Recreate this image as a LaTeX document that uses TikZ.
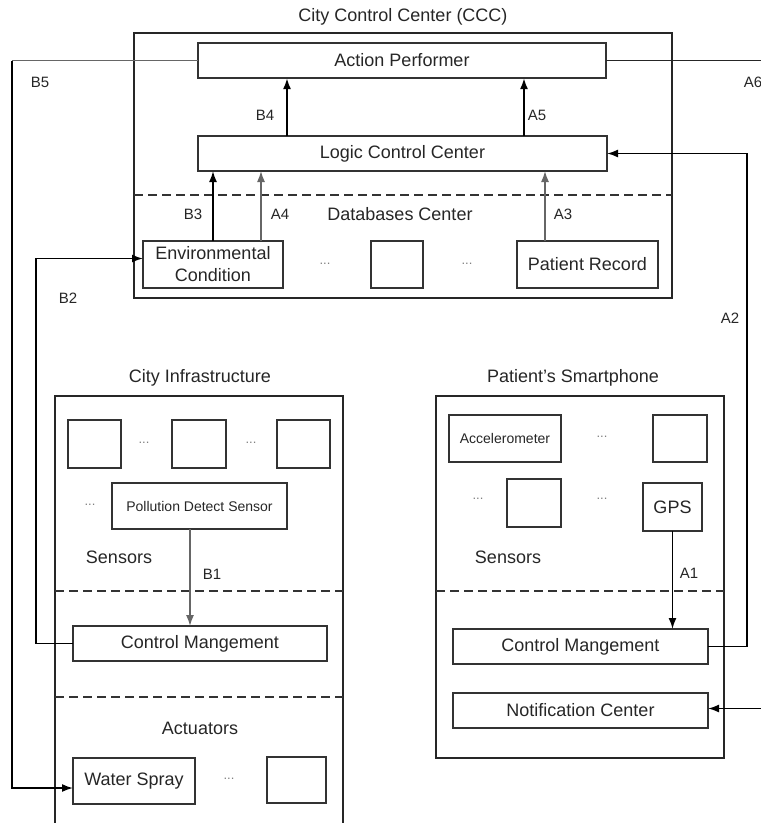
\documentclass[tikz,border=0pt]{standalone}
\usepackage{fontspec}
\setmainfont{Liberation Sans}
\usetikzlibrary{arrows.meta}

\begin{document}
\begin{tikzpicture}[x=1pt,y=-1pt]
\tikzset{
  frame/.style={draw=black!85,line width=2pt,inner sep=0pt,outer sep=0pt},
  box/.style={draw=black!80,line width=1.8pt,inner sep=0pt,outer sep=0pt,
    font=\fontsize{18}{22}\selectfont,text=black!85,align=center},
  sbox/.style={box,font=\fontsize{14}{17}\selectfont},
  txt/.style={font=\fontsize{18}{22}\selectfont,text=black!85,inner sep=0pt},
  lbl/.style={font=\fontsize{15}{18}\selectfont,text=black!85,inner sep=0pt},
  dots/.style={font=\fontsize{13}{15}\selectfont,text=black!50,inner sep=0pt},
  sep/.style={draw=black!80,line width=1.8pt,dash pattern=on 9pt off 5pt},
  tip/.style={-{Latex[length=11pt,width=8pt]}},
  arr/.style={tip,draw=black,line width=1.7pt},
  bigarr/.style={tip,draw=black,line width=2.5pt},
  garr/.style={tip,draw=black!60,line width=1.4pt},
  link/.style={draw=black!85,line width=1.7pt},
}
\useasboundingbox (0,0) rectangle (761,823);
\clip (0,0) rectangle (761,823);

% ---------- City Control Center ----------
\node[frame,minimum width=538,minimum height=265] (ccc) at (403,165.5) {};
\node[txt] (ccct) at (403,17) {City Control Center (CCC)};
\node[box,minimum width=408,minimum height=35] (ap) at (402,60.5) {Action Performer};
\node[box,minimum width=409,minimum height=35] (lcc) at (402.5,153.5) {Logic Control Center};
\coordinate (d1) at (0,195);
\draw[sep] (ccc.west |- d1) -- (ccc.east |- d1);
\node[txt] (dbc) at (400,214) {Databases Center};
\node[box,minimum width=140,minimum height=47] (env) at (213,264.5) {Environmental\\Condition};
\node[box,minimum width=52,minimum height=47] (db2) at (397,264.5) {};
\node[box,minimum width=141,minimum height=47] (pr) at (587.5,264.5) {Patient Record};
\node[dots] (dd1) at (325,264) {...};
\node[dots] (dd2) at (467,264) {...};

% ---------- City Infrastructure ----------
\node[frame,minimum width=288,minimum height=454] (ci) at (199,623) {};
\node[txt] (cit) at (200,378) {City Infrastructure};
\node[box,minimum width=53,minimum height=48] (s1) at (94.5,444) {};
\node[box,minimum width=54,minimum height=48] (s2) at (199,444) {};
\node[box,minimum width=53,minimum height=48] (s3) at (303.5,444) {};
\node[dots] (cd1) at (144,443) {...};
\node[dots] (cd2) at (251,443) {...};
\node[dots] (cd3) at (90,505) {...};
\node[sbox,minimum width=175,minimum height=46] (pds) at (199.5,506) {Pollution Detect Sensor};
\node[txt] (cis) at (119,557) {Sensors};
\coordinate (d2) at (0,591);
\draw[sep] (ci.west |- d2) -- (ci.east |- d2);
\node[box,minimum width=254,minimum height=35] (cml) at (200,643.5) {Control Mangement};
\coordinate (d3) at (0,697);
\draw[sep] (ci.west |- d3) -- (ci.east |- d3);
\node[txt] (act) at (200,728) {Actuators};
\node[box,minimum width=122,minimum height=46] (ws) at (134,781) {Water Spray};
\node[dots] (cd4) at (229,779) {...};
\node[box,minimum width=59,minimum height=46] (a2b) at (296.5,780) {};

% ---------- Patient's Smartphone ----------
\node[frame,minimum width=288,minimum height=362] (ps) at (580,577) {};
\node[txt] (pst) at (573,378) {Patient's Smartphone};
\node[sbox,minimum width=112,minimum height=47] (acc) at (505,438.5) {Accelerometer};
\node[box,minimum width=54,minimum height=47] (p2) at (680,438.5) {};
\node[box,minimum width=54,minimum height=48] (p3) at (534,503) {};
\node[box,minimum width=59,minimum height=48] (gps) at (672.5,507) {GPS};
\node[dots] (pd1) at (602,437) {...};
\node[dots] (pd2) at (478,499) {...};
\node[dots] (pd3) at (602,499) {...};
\node[txt] (pss) at (508,557) {Sensors};
\draw[sep] (ps.west |- d2) -- (ps.east |- d2);
\node[box,minimum width=255,minimum height=35] (cmr) at (580.5,646.5) {Control Mangement};
\node[box,minimum width=255,minimum height=35] (nc) at (580.5,710.5) {Notification Center};

% ---------- flows ----------
\coordinate (b4x) at (287,0);
\coordinate (a5x) at (524,0);
\coordinate (a4x) at (261,0);
\coordinate (a3x) at (545,0);
\coordinate (b1x) at (190,0);
\coordinate (b2x) at (36,0);
\coordinate (b5x) at (12,0);
\coordinate (a2x) at (747,0);
\coordinate (edge) at (780,0);

\draw[bigarr] (lcc.north -| b4x) -- (ap.south -| b4x);
\draw[bigarr] (lcc.north -| a5x) -- (ap.south -| a5x);
\draw[arr] (env.north) -- (env.north |- lcc.south);
\draw[garr] (env.north -| a4x) -- (lcc.south -| a4x);
\draw[garr] (pr.north -| a3x) -- (lcc.south -| a3x);

\draw[garr] (pds.south -| b1x) -- (cml.north -| b1x);
\draw[arr] (cml.west) -- (cml.west -| b2x) -- ([yshift=6pt]env.west -| b2x) -- ([yshift=6pt]env.west);
\draw[link,black!60,line width=1.4pt] (ap.west) -- (ap.west -| b5x);
\draw[arr,line width=1.6pt] (ap.west -| b5x) -- ([yshift=-7pt]ws.west -| b5x) -- ([yshift=-7pt]ws.west);

\draw[arr] (gps.south) -- (gps.south |- cmr.north);
\draw[arr] (cmr.east) -- (cmr.east -| a2x) -- (lcc.east -| a2x) -- (lcc.east);
\draw[link] (ap.east) -- (ap.east -| edge);
\draw[arr] ([yshift=2pt]nc.east -| edge) -- ([yshift=2pt]nc.east);

% ---------- labels ----------
\node[lbl] (lb5) at (40,82) {B5};
\node[lbl] (lb4) at (265,115) {B4};
\node[lbl] (la5) at (537,115) {A5};
\node[lbl] (lb3) at (193,214) {B3};
\node[lbl] (la4) at (280,214) {A4};
\node[lbl] (la3) at (563,214) {A3};
\node[lbl] (lb2) at (68,298) {B2};
\node[lbl] (la2) at (730,318) {A2};
\node[lbl] (la6) at (753,82) {A6};
\node[lbl] (lb1) at (212,574) {B1};
\node[lbl] (la1) at (689,573) {A1};
\end{tikzpicture}
\end{document}
